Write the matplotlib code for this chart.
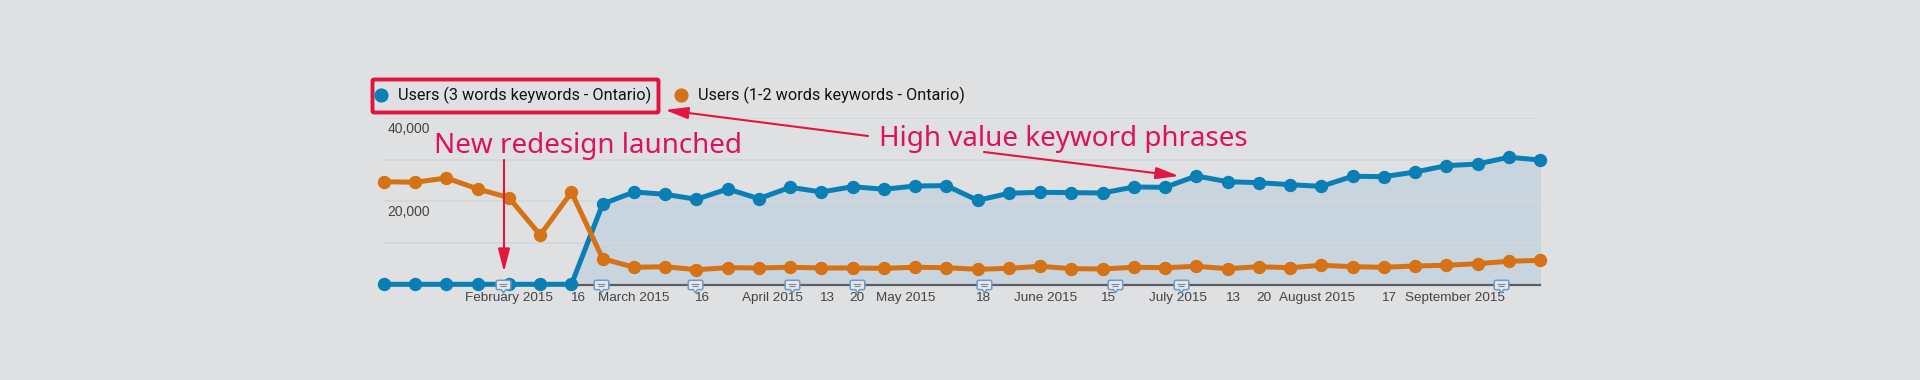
import matplotlib
matplotlib.use("Agg")
import matplotlib.pyplot as plt
from matplotlib.path import Path
from matplotlib.patches import FancyBboxPatch

users_3_words = [0, 0, 0, 0, 0, 0, 0, 19350, 22240, 21690, 20490, 22970, 20630, 23380, 22240, 23530,
                 22900, 23690, 23770, 20240, 21930, 22170, 22090, 22000, 23450, 23380, 26100, 24730,
                 24490, 24010, 23600, 26030, 25940, 27060, 28590, 28990, 30610, 29960]
users_1_2_words = [24730, 24580, 25620, 22970, 20870, 11880, 22170, 6170, 4100, 4240, 3520, 4000, 3930,
                   4100, 3930, 3930, 3850, 4100, 4000, 3610, 3850, 4330, 3770, 3690, 4100, 4000, 4330,
                   3770, 4240, 4000, 4580, 4240, 4100, 4410, 4580, 4970, 5540, 5780]
weeks = list(range(len(users_3_words)))

tick_pos = [4.0, 6.18, 8.0, 10.15, 12.42, 14.15, 15.15, 16.71, 19.15, 21.17, 23.15, 25.42, 27.15,
            28.15, 29.87, 32.15, 34.29]
tick_labels = ["February 2015", "16", "March 2015", "16", "April 2015", "13", "20", "May 2015", "18",
               "June 2015", "15", "July 2015", "13", "20", "August 2015", "17", "September 2015"]
note_weeks = [3.8, 6.93, 9.97, 13.07, 15.15, 19.22, 23.4, 25.5, 35.74]
legend_labels = ["Users (3 words keywords - Ontario)", "Users (1-2 words keywords - Ontario)"]

BG = "#dfe0e2"
BLUE = "#0a7fb5"
ORANGE = "#d57215"
RED = "#e2173f"
PINK = "#dd1062"
W, H = 1920, 380


def px_box(x0, y0, x1, y1):
    return [x0 / W, 1 - y1 / H, (x1 - x0) / W, (y1 - y0) / H]


# little speech bubble used by the analytics notes, tail pointing down
def note_marker():
    verts = [(-6, 5), (6, 5), (7, 4), (7, -3), (6, -4), (2, -4), (0, -7), (-2, -4), (-6, -4), (-7, -3),
             (-7, 4), (-6, 5)]
    return Path(verts)


fig = plt.figure(figsize=(19.2, 3.8), dpi=100, facecolor=BG)
ax = fig.add_axes(px_box(384, 118.3, 1540, 284.3))
ax.set_facecolor("none")
ax.set_xlim(0, 37)
ax.set_ylim(0, 40000)

ax.fill_between(weeks, users_3_words, color="#c8d5de", zorder=1)
ax.set_yticks([0, 10000, 20000, 30000, 40000])
ax.set_yticklabels([])
ax.grid(axis="y", color="#d5d6d8", lw=1.2, zorder=2)
ax.set_axisbelow(False)
ax.tick_params(length=0)
for s in ax.spines.values():
    s.set_visible(False)
ax.axhline(-150, color="#5a5e62", lw=1.6, zorder=3, clip_on=False)

ax.plot(weeks, users_1_2_words, "-o", color=ORANGE, lw=3.6, ms=8.6, clip_on=False, zorder=5)
ax.plot(weeks, users_3_words, "-o", color=BLUE, lw=3.6, ms=8.6, clip_on=False, zorder=4)

ax.set_xticks(tick_pos)
ax.set_xticklabels(tick_labels, fontfamily="Liberation Sans", fontsize=9.7, color="#444444")
ax.tick_params(axis="x", pad=5.5)

for v, lab in [(40000, "40,000"), (20000, "20,000")]:
    ax.annotate(lab, (0, v), xytext=(2.4, -7.6), textcoords="offset points", ha="left", va="center",
                fontfamily="Liberation Sans", fontsize=10, color="#444444", zorder=6)

ax.plot(note_weeks, [-170] * len(note_weeks), ls="none", marker=note_marker(), ms=10.5, mfc="#e4e8ec",
        mec="#6d9bc3", mew=1.1, clip_on=False, zorder=7)
for w in note_weeks:
    ax.plot([w], [190], ls="none", marker="_", ms=5.5, mec="#7d8a96", mew=0.8, clip_on=False, zorder=8)
    ax.plot([w], [-530], ls="none", marker="_", ms=4, mec="#7d8a96", mew=0.8, clip_on=False, zorder=8)

# overlay in reference pixels for the legend and the hand drawn callouts
ov = fig.add_axes([0, 0, 1, 1])
ov.set_xlim(0, W)
ov.set_ylim(H, 0)
ov.axis("off")
ov.patch.set_alpha(0)

ov.plot([381], [94.5], "o", color=BLUE, ms=9.2)
ov.plot([681], [94.5], "o", color=ORANGE, ms=9.2)
ov.text(398, 95, legend_labels[0], fontfamily="Roboto", fontsize=11.7, color="#111111", va="center")
ov.text(698, 95, legend_labels[1], fontfamily="Roboto", fontsize=11.7, color="#111111", va="center")
ov.add_patch(FancyBboxPatch((372.5, 79.5), 286, 33, boxstyle="round,pad=0,rounding_size=1.5",
                            fc="none", ec="#e0143f", lw=2.8))

ov.text(434, 153, "New redesign launched", fontfamily="Noto Sans", fontsize=20, color=PINK, va="baseline")
ov.text(879, 146, "High value keyword phrases", fontfamily="Noto Sans", fontsize=20, color=PINK, va="baseline")

arrow = dict(arrowstyle="-|>,head_length=1.4,head_width=0.36", color=RED, lw=1.5, shrinkA=0, shrinkB=0,
             mutation_scale=10)
ov.annotate("", xy=(665, 110), xytext=(868, 136), arrowprops=arrow)
ov.annotate("", xy=(1179, 176), xytext=(984, 152), arrowprops=arrow)
ov.annotate("", xy=(504, 272), xytext=(504, 160), arrowprops=arrow)

fig.savefig("out.png", dpi=100, facecolor=BG)
